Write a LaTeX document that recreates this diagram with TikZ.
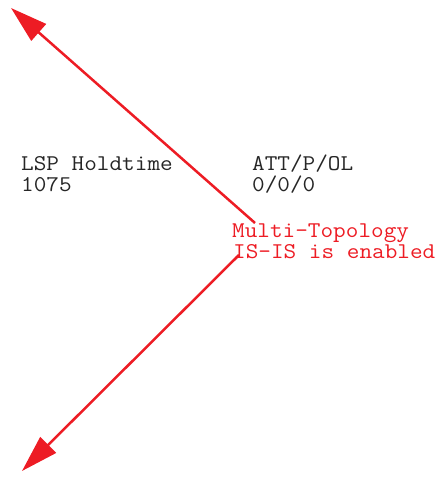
\documentclass[tikz,border=0pt]{standalone}
\usepackage{fontspec}
\setmonofont{Latin Modern Mono}[FakeStretch=1.09]
\usetikzlibrary{arrows.meta}
\definecolor{arrred}{HTML}{ED1C24}
\begin{document}
\begin{tikzpicture}[x=1pt,y=-1pt,
  lbl/.style={font=\ttfamily\fontsize{22.5}{20.5}\selectfont, inner sep=0pt, anchor=base west, align=left, text=black!85},
  redlbl/.style={lbl, text=arrred},
  redarrow/.style={draw=arrred, line width=2.5pt, -{Triangle[length=37pt,width=22pt]}}]
\useasboundingbox (0,0) rectangle (441,481);
\node[lbl] (hold) at (21,191) {LSP Holdtime\\1075};
\node[lbl] (att) at (252,191) {ATT/P/OL\\0/0/0};
\node[redlbl] (mt) at (232,258) {Multi-Topology\\\hspace{1pt}IS-IS is enabled};
\coordinate (s1) at (255,223);
\coordinate (t1) at (11,8);
\coordinate (s2) at (239,255);
\coordinate (t2) at (22,471);
\draw[redarrow] (s1) -- (t1);
\draw[redarrow] (s2) -- (t2);
\end{tikzpicture}
\end{document}
